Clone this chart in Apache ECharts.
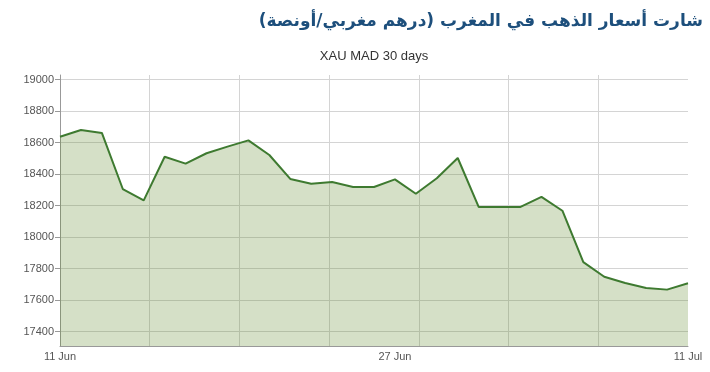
<!DOCTYPE html>
<html>
<head>
<meta charset="utf-8">
<script src="https://cdn.jsdelivr.net/npm/echarts@6/dist/echarts.min.js"></script>
<style>html,body{margin:0;padding:0;background:#fff}#c{width:710px;height:372px}</style>
</head>
<body>
<div id="c"></div>
<script>
var titleText = 'شارت أسعار الذهب في المغرب (درهم مغربي/أونصة)';
var subtitleText = 'XAU MAD 30 days';
var dates = ['11 Jun','12 Jun','13 Jun','14 Jun','15 Jun','16 Jun','17 Jun','18 Jun','19 Jun','20 Jun',
  '21 Jun','22 Jun','23 Jun','24 Jun','25 Jun','26 Jun','27 Jun','28 Jun','29 Jun','30 Jun',
  '1 Jul','2 Jul','3 Jul','4 Jul','5 Jul','6 Jul','7 Jul','8 Jul','9 Jul','10 Jul','11 Jul'];
var prices = [18638,18681,18662,18306,18234,18511,18467,18533,18575,18615,
  18522,18370,18340,18350,18319,18319,18367,18276,18374,18503,
  18192,18192,18192,18256,18168,17842,17749,17709,17677,17667,17707];
var xTickLabels = ['11 Jun','27 Jun','11 Jul'];
var yTicks = [17400,17600,17800,18000,18200,18400,18600,18800,19000];
var xGridCount = 7;

var xLabelValues = xTickLabels.map(function(l){ return dates.indexOf(l); });
var xGridValues = [];
for (var i = 1; i < xGridCount; i++) xGridValues.push((dates.length - 1) * i / xGridCount);

var chart = echarts.init(document.getElementById('c'), null, {renderer:'canvas'});
chart.setOption({
  animation: false,
  backgroundColor: '#fff',
  title: [{
    text: '\u200F' + titleText + '\u200F',
    right: 7, top: 13, padding: 0,
    textStyle: {fontFamily: 'DejaVu Sans', fontSize: 17, fontWeight: 'bold', color: '#1d4f7c'}
  }, {
    text: subtitleText,
    left: 374, top: 50, padding: 0, textAlign: 'center',
    textStyle: {fontFamily: 'Liberation Sans', fontSize: 13, fontWeight: 'normal', color: '#333'}
  }],
  grid: {left: 60, right: 22, top: 75, bottom: 26, containLabel: false},
  xAxis: {
    type: 'value', min: 0, max: dates.length - 1,
    axisLine: {show: true, lineStyle: {color: '#999', width: 1}},
    axisTick: {show: false, customValues: xGridValues},
    axisLabel: {
      customValues: xLabelValues, margin: 5,
      fontFamily: 'Liberation Sans', fontSize: 11, color: '#555',
      formatter: function(v){ return dates[Math.round(v)]; }
    },
    splitLine: {show: true, lineStyle: {color: '#d4d4d4', width: 1}}
  },
  yAxis: {
    type: 'value', min: 17309, max: 19030,
    axisLine: {show: true, lineStyle: {color: '#999', width: 1}},
    axisTick: {show: true, length: 5, customValues: yTicks, lineStyle: {color: '#999'}},
    axisLabel: {customValues: yTicks, margin: 6, fontFamily: 'Liberation Sans', fontSize: 11, color: '#555',
      formatter: function(v){ return String(v); }},
    splitLine: {show: true, lineStyle: {color: '#d4d4d4', width: 1}}
  },
  series: [{
    type: 'line',
    data: prices.map(function(p, i){ return [i, p]; }),
    showSymbol: false,
    lineStyle: {color: '#3e7a30', width: 2},
    itemStyle: {color: '#3e7a30'},
    areaStyle: {color: 'rgba(99,140,48,0.27)', opacity: 1, origin: 'start'}
  }]
});
</script>
</body>
</html>
